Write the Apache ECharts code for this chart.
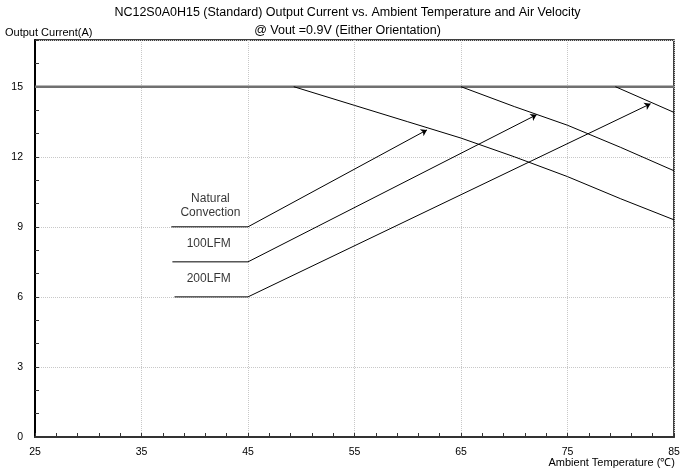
<!DOCTYPE html>
<html><head><meta charset="utf-8">
<script src="https://cdn.jsdelivr.net/npm/echarts@6/dist/echarts.min.js"></script>
<style>html,body{margin:0;padding:0;background:#fff}#c{width:695px;height:470px}</style>
</head><body><div id="c"></div>
<script>
const titleLine1 = 'NC12S0A0H15 (Standard) Output Current vs. Ambient Temperature and Air Velocity';
const titleLine2 = '@ Vout =0.9V (Either Orientation)';
const yName = 'Output Current(A)';
const xName = 'Ambient Temperature (\u2103)';

const limitLine = [[25, 15], [85, 15]];
const natural = [[49.3, 15], [55, 14.2], [60, 13.5], [65, 12.8], [70, 12.0], [75, 11.15], [80, 10.2], [85, 9.3]];
const lfm100 = [[65, 15], [70, 14.15], [75, 13.35], [80, 12.4], [85, 11.4]];
const lfm200 = [[79.5, 15], [85, 13.9]];

const labelNames = ['Natural\nConvection', '100LFM', '200LFM'];
const labelAt = [[41.47, 9.89], [41.31, 8.26], [41.31, 6.76]];
const leaderStart = [[37.8, 9], [37.9, 7.5], [38.1, 6]];
const leaderBend = [[45, 9], [45, 7.5], [45, 6]];
const arrowTip = [[61.8, 13.15], [72.1, 13.8], [82.8, 14.27]];

const FONT = "'Liberation Sans', Arial, sans-serif";
const chart = echarts.init(document.getElementById('c'), null, {renderer: 'canvas'});

const series = [
  {type: 'line', data: limitLine, symbol: 'none', lineStyle: {color: '#707070', width: 2.5}, z: 3},
  {type: 'line', data: natural, symbol: 'none', lineStyle: {color: '#000', width: 1}},
  {type: 'line', data: lfm100, symbol: 'none', lineStyle: {color: '#000', width: 1}},
  {type: 'line', data: lfm200, symbol: 'none', lineStyle: {color: '#000', width: 1}}
];
leaderStart.forEach((s, i) => {
  series.push({type: 'line', data: [s, leaderBend[i]], symbol: 'none', lineStyle: {color: '#000', width: 1}});
});
series.push({
  type: 'lines', coordinateSystem: 'cartesian2d',
  data: leaderBend.map((b, i) => ({coords: [b, arrowTip[i]]})),
  symbol: ['none', 'arrow'], symbolSize: 6,
  lineStyle: {color: '#000', width: 1, opacity: 1, curveness: 0},
  itemStyle: {color: '#000'}
});
series.push({
  type: 'scatter', symbolSize: 0,
  data: labelAt.map((p, i) => ({value: p, name: labelNames[i]})),
  label: {show: true, position: 'inside', formatter: p => p.name, color: '#000', fontSize: 12, lineHeight: 14, fontFamily: FONT, align: 'center'}
});

chart.setOption({
  animation: false,
  backgroundColor: '#fff',
  textStyle: {fontFamily: FONT},
  title: {
    text: titleLine1, subtext: titleLine2, left: 'center', top: 1, itemGap: 5,
    textStyle: {fontSize: 12.5, fontWeight: 'normal', color: '#000', fontFamily: FONT},
    subtextStyle: {fontSize: 12.5, color: '#000', fontFamily: FONT}
  },
  graphic: [
    {type: 'text', left: 5, top: 27, style: {text: yName, fontSize: 11, fill: '#000', fontFamily: FONT}},
    {type: 'text', right: 20, top: 457, style: {text: xName, fontSize: 11, fill: '#000', fontFamily: FONT}}
  ],
  grid: {left: 35, right: 21, top: 40, bottom: 33, show: true, borderColor: '#000', borderWidth: 1.5},
  xAxis: {
    type: 'value', min: 25, max: 85, interval: 10,
    axisLine: {lineStyle: {color: '#333', width: 2}},
    axisTick: {inside: true, length: 4, lineStyle: {color: '#333'}},
    minorTick: {show: true, splitNumber: 5, length: 4, lineStyle: {color: '#333'}},
    splitLine: {show: true, lineStyle: {color: '#c8c8c8', type: 'dotted'}},
    axisLabel: {fontSize: 10.5, color: '#000', margin: 10, fontFamily: FONT}
  },
  yAxis: [{
    type: 'value', min: 0, max: 17, interval: 3,
    axisLine: {show: true, lineStyle: {color: '#000', width: 2}},
    axisTick: {show: false},
    axisLabel: {fontSize: 10.5, color: '#000', margin: 12, showMaxLabel: false, fontFamily: FONT},
    splitLine: {show: true, lineStyle: {color: '#c8c8c8', type: 'dotted'}}
  }, {
    type: 'value', min: 0, max: 17, interval: 1, position: 'left',
    axisLine: {show: false}, axisLabel: {show: false}, splitLine: {show: false},
    axisTick: {show: true, inside: true, length: 4, lineStyle: {color: '#333'}}
  }],
  series: series
});
</script></body></html>
